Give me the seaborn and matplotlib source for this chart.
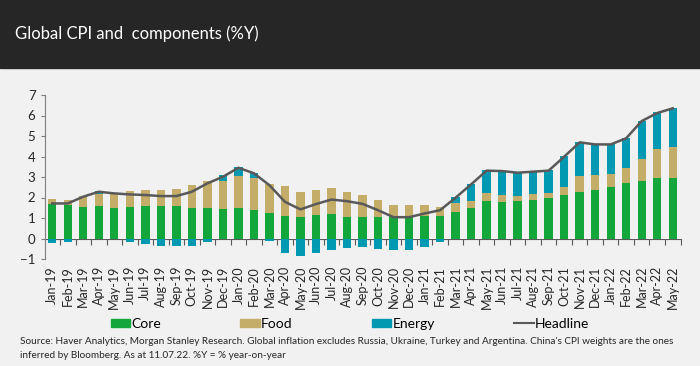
import numpy as np
import pandas as pd
import seaborn as sns
import matplotlib.pyplot as plt
from matplotlib.patches import Patch, Rectangle
from matplotlib.lines import Line2D

months = ['Jan-19', 'Feb-19', 'Mar-19', 'Apr-19', 'May-19', 'Jun-19', 'Jul-19', 'Aug-19',
          'Sep-19', 'Oct-19', 'Nov-19', 'Dec-19', 'Jan-20', 'Feb-20', 'Mar-20', 'Apr-20',
          'May-20', 'Jun-20', 'Jul-20', 'Aug-20', 'Sep-20', 'Oct-20', 'Nov-20', 'Dec-20',
          'Jan-21', 'Feb-21', 'Mar-21', 'Apr-21', 'May-21', 'Jun-21', 'Jul-21', 'Aug-21',
          'Sep-21', 'Oct-21', 'Nov-21', 'Dec-21', 'Jan-22', 'Feb-22', 'Mar-22', 'Apr-22',
          'May-22']
core = [1.66, 1.61, 1.53, 1.58, 1.50, 1.53, 1.58, 1.58, 1.58, 1.50, 1.50, 1.43, 1.50, 1.37,
        1.24, 1.09, 1.06, 1.16, 1.19, 1.06, 1.04, 1.06, 1.03, 1.03, 1.09, 1.11, 1.30, 1.50,
        1.81, 1.78, 1.81, 1.89, 1.99, 2.12, 2.26, 2.38, 2.49, 2.69, 2.82, 2.96, 2.96]
food = [0.28, 0.29, 0.54, 0.59, 0.73, 0.78, 0.78, 0.78, 0.83, 1.10, 1.30, 1.37, 1.56, 1.59,
        1.41, 1.45, 1.22, 1.23, 1.27, 1.22, 1.08, 0.81, 0.60, 0.60, 0.54, 0.42, 0.41, 0.31,
        0.42, 0.34, 0.26, 0.26, 0.22, 0.39, 0.80, 0.73, 0.65, 0.75, 1.06, 1.40, 1.52]
energy = [-0.20, -0.18, 0.0, 0.14, 0.0, -0.15, -0.27, -0.35, -0.37, -0.35, -0.15, 0.29, 0.44,
          0.23, -0.10, -0.70, -0.85, -0.73, -0.55, -0.47, -0.42, -0.50, -0.55, -0.55, -0.42,
          -0.15, 0.31, 0.86, 1.09, 1.14, 1.14, 1.11, 1.11, 1.51, 1.63, 1.48, 1.45, 1.48, 1.85,
          1.80, 1.87]
headline = [1.71, 1.71, 2.04, 2.28, 2.20, 2.15, 2.12, 2.07, 2.07, 2.28, 2.69, 3.01, 3.45,
            3.18, 2.60, 1.79, 1.42, 1.68, 1.90, 1.82, 1.69, 1.38, 1.04, 1.04, 1.22, 1.38,
            1.99, 2.64, 3.31, 3.29, 3.21, 3.26, 3.31, 3.99, 4.69, 4.59, 4.59, 4.89, 5.73,
            6.12, 6.35]

c_core = '#13a63b'
c_food = '#c4ad69'
c_energy = '#0099b1'
c_head = '#595959'
bg = '#f1f1f1'

df = pd.DataFrame({'month': months, 'core': core, 'food': food,
                   'energy': energy, 'headline': headline})
df['cf'] = df['core'] + df['food']
# energy bar drawn on top of core+food when positive, down from zero when negative
df['e_bar'] = np.where(df['energy'] > 0, df['cf'] + df['energy'], df['energy'])
df['pos'] = np.arange(len(df))

plt.rcParams['font.family'] = ['Lato', 'DejaVu Sans']
fig = plt.figure(figsize=(7, 3.66), dpi=100, facecolor=bg)
fig.patches.append(Rectangle((0, 1 - 68 / 366), 1, 68 / 366, transform=fig.transFigure,
                             color='#262626', zorder=0))
fig.text(15 / 700, 1 - 34 / 366, 'Global CPI and  components (%Y)', color='white',
         fontsize=12, va='center', ha='left')

ax = fig.add_axes([44.5 / 700, 1 - 259 / 366, (680.5 - 44.5) / 700, (259 - 95) / 366])
ax.set_facecolor(bg)

w = 0.54
sns.barplot(data=df, x='month', y='e_bar', color=c_energy, width=w, saturation=1, ax=ax)
sns.barplot(data=df, x='month', y='cf', color=c_food, width=w, saturation=1, ax=ax)
sns.barplot(data=df, x='month', y='core', color=c_core, width=w, saturation=1, ax=ax)
sns.lineplot(data=df, x='pos', y='headline', color=c_head, lw=1.8, ax=ax)

ax.set_xlim(-0.5, len(df) - 0.5)
ax.set_ylim(-1, 7)
ax.set_yticks(range(-1, 8))
ax.set_xlabel('')
ax.set_ylabel('')

for s in ['top', 'right', 'bottom']:
    ax.spines[s].set_visible(False)
ax.spines['left'].set_color('#7f7f7f')

ax.set_xticks(df['pos'])
ax.set_xticklabels(months, rotation=90, fontsize=9, color='#262626')
ax.tick_params(axis='x', which='major', length=0, pad=5)
ax.tick_params(axis='y', length=3, color='#7f7f7f', labelsize=9.5, labelcolor='#262626')

# zero line with tick marks between the months
zero_ax = ax.secondary_xaxis(1 / 8)
zero_ax.set_xticks(np.arange(len(df)) + 0.5)
zero_ax.set_xticklabels([])
zero_ax.tick_params(length=4, color='#595959')
zero_ax.spines['bottom'].set_color('#595959')

handles = [Patch(color=c_core, label='Core'), Patch(color=c_food, label='Food'),
           Patch(color=c_energy, label='Energy'),
           Line2D([], [], color=c_head, lw=1.5, label='Headline')]
fig.legend(handles=handles, ncol=4, loc='center', bbox_to_anchor=(350 / 700, 1 - 324 / 366),
           frameon=False, fontsize=10, handlelength=1.4, handleheight=0.55,
           handletextpad=0.1, columnspacing=5.7, borderpad=0)

fig.text(20 / 700, 1 - 341 / 366,
         "Source: Haver Analytics, Morgan Stanley Research. Global inflation excludes Russia, "
         "Ukraine, Turkey and Argentina. China's CPI weights are the ones",
         fontsize=7.2, va='center', color='#262626')
fig.text(20 / 700, 1 - 355 / 366,
         "inferred by Bloomberg. As at 11.07.22. %Y = % year-on-year",
         fontsize=7.2, va='center', color='#262626')

fig.savefig('out.png', dpi=100, facecolor=bg)
